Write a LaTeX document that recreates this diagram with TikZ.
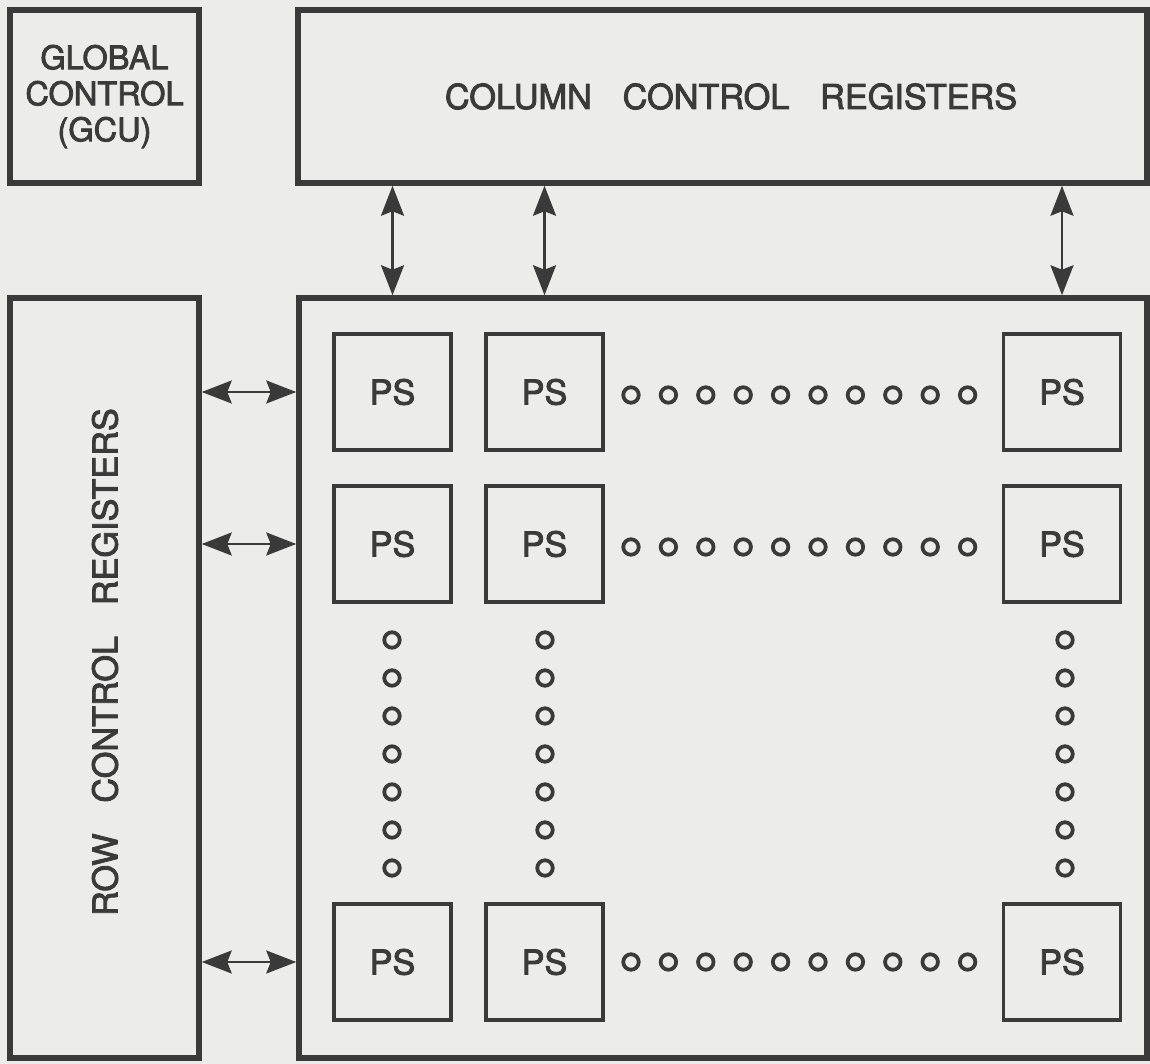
\documentclass[tikz,border=0pt]{standalone}
\usepackage{fontspec}
\setmainfont{TeX Gyre Heros}[BoldFont=TeX Gyre Heros, BoldFeatures={FakeBold=2.5}]
\usetikzlibrary{arrows.meta}

\definecolor{tinta}{RGB}{58,58,58}
\definecolor{papel}{RGB}{236,236,234}

\tikzset{
  rotulo/.style={font=\fontsize{19.5}{20.5}\selectfont\bfseries, text=tinta},
  bloque/.style={draw=tinta, line width=1.1mm, inner sep=0pt, rotulo},
  celda/.style={draw=tinta, line width=0.7mm, minimum width=23.4mm, minimum height=23.2mm, inner sep=0pt, rotulo},
  punto/.style={circle, draw=tinta, line width=0.75mm, minimum size=3.1mm, inner sep=0pt},
  flecha/.style={{Stealth[length=6mm, width=4.6mm, inset=0.9mm]}-{Stealth[length=6mm, width=4.6mm, inset=0.9mm]}, draw=tinta, line width=0.5mm}
}

\begin{document}
\begin{tikzpicture}[x=0.2mm, y=-0.2mm]
  % Fondo y marco
  \fill[papel] (0,0) rectangle (1150,1064);
  \useasboundingbox (0,0) rectangle (1150,1064);

  % Bloques de control
  \node[bloque, minimum width=37.8mm, minimum height=34.6mm, align=center,
        font=\fontsize{18.5}{20.5}\selectfont\bfseries] (gcu) at (104.5,96.5) {GLOBAL\\CONTROL\\(GCU)};
  \node[bloque, minimum width=169.8mm, minimum height=34.6mm] (columnas) at (722.5,96.5) {\hspace{0.5em}COLUMN\hspace{0.9em}CONTROL\hspace{0.9em}REGISTERS};
  \node[bloque, minimum width=37.8mm, minimum height=152mm] (filas) at (104.5,678) {};
  \node[rotulo, rotate=90] (txtfilas) at (105,662) {ROW\hspace{0.9em}CONTROL\hspace{0.9em}REGISTERS};

  % Matriz de procesadores
  \node[bloque, minimum width=169.6mm, minimum height=152mm] (matriz) at (723,678) {};
  \foreach \f/\y in {1/392, 2/544, 3/962}
    \foreach \c/\x in {1/392.5, 2/544.5, 3/1062}
      \node[celda] (ps-\f-\c) at (\x,\y) {PS};

  % Puntos suspensivos
  \foreach \f/\y in {1/395, 2/547, 3/962}
    \foreach \i in {0,...,9}
      \node[punto] (h-\f-\i) at ({631+37.4*\i},\y) {};
  \foreach \c/\x in {1/392, 2/545, 3/1065}
    \foreach \j in {0,...,6}
      \node[punto] (v-\c-\j) at (\x,{640+38*\j}) {};

  % Enlaces con los registros
  \foreach \c in {1,2,3}
    \draw[flecha] (columnas.south -| ps-1-\c) -- (matriz.north -| ps-1-\c);
  \foreach \f in {1,2,3}
    \draw[flecha] (filas.east |- ps-\f-1) -- (matriz.west |- ps-\f-1);
\end{tikzpicture}
\end{document}
